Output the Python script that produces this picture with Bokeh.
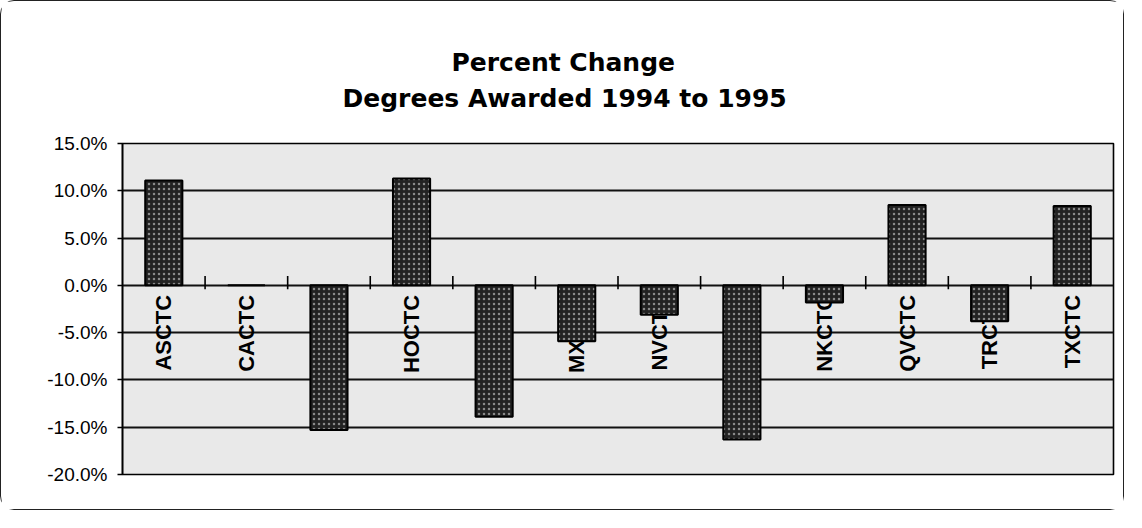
from math import pi
from bokeh.plotting import figure
from bokeh.models import Range1d, FixedTicker, PrintfTickFormatter, Title, ColumnDataSource
from bokeh.core.properties import value
from bokeh.embed import file_html
from bokeh.resources import INLINE

# ---- data ----
categories = ["ASCTC", "CACTC", "GWCTC", "HOCTC", "MCCTC", "MXCTC",
              "NVCTC", "NWCTC", "NKCTC", "QVCTC", "TRCTC", "TXCTC"]
pct_change = [11.1, 0.0, -15.3, 11.3, -13.9, -5.9,
              -3.1, -16.3, -1.8, 8.5, -3.8, 8.4]
y_ticks = [-20, -15, -10, -5, 0, 5, 10, 15]
title_line1 = "Percent Change"
title_line2 = "Degrees Awarded 1994 to 1995"

n = len(categories)
xs = [i + 0.5 for i in range(n)]
boundaries = list(range(1, n))

src = ColumnDataSource(dict(x=xs, top=pct_change, cat=categories,
                            ly=[-1.0] * n))

p = figure(width=1124, height=510, output_backend="svg", toolbar_location=None,
           x_range=Range1d(0, n), y_range=Range1d(y_ticks[0], y_ticks[-1]),
           x_axis_location=None,
           min_border_left=121, min_border_right=12,
           min_border_top=142, min_border_bottom=37)
p.styles = {"border": "1px solid #222", "border-radius": "14px"}

p.background_fill_color = "#e9e9e9"
p.border_fill_color = "white"
p.outline_line_color = "black"
p.outline_line_width = 1.6

# tighter spacing for the upper title line, if supported
_tp = Title.properties()
tight = {}
if "standoff" in _tp:
    tight["standoff"] = 0
if "padding" in _tp:
    tight["padding"] = 0

# titles: two lines, centred over the whole chart (not the frame)
p.add_layout(Title(text=" ", text_font_size="12px"), "above")
p.add_layout(Title(text=title_line2, align="left", offset=220,
                   text_font="DejaVu Sans",
                   text_font_style="bold", text_font_size="25px",
                   text_color="black"), "above")
p.add_layout(Title(text=title_line1, align="left", offset=329,
                   text_font="DejaVu Sans",
                   text_font_style="bold", text_font_size="25px",
                   text_color="black", **tight), "above")

# y axis
p.yaxis.ticker = FixedTicker(ticks=y_ticks)
p.yaxis.formatter = PrintfTickFormatter(format="%.1f%%")
p.yaxis.major_label_text_font = "Liberation Sans"
p.yaxis.major_label_text_font_size = "19px"
p.yaxis.major_label_text_color = "black"
p.yaxis.major_label_standoff = 10
p.yaxis.axis_line_color = "black"
p.yaxis.axis_line_width = 1.6
p.yaxis.major_tick_in = 0
p.yaxis.major_tick_out = 5
p.yaxis.major_tick_line_color = "black"
p.yaxis.major_tick_line_width = 1.5
p.yaxis.minor_tick_line_color = None

p.xgrid.visible = False
p.ygrid.ticker = FixedTicker(ticks=y_ticks)
p.ygrid.grid_line_color = "#111111"
p.ygrid.grid_line_width = 1.8

# category tick marks on the zero line
p.segment(x0=boundaries, x1=boundaries, y0=[1.0] * len(boundaries),
          y1=[-0.4] * len(boundaries), line_color="black", line_width=1.6)

# category labels (drawn before bars, so bars cover them as in the original)
p.text(x="x", y="ly", text="cat", source=src, angle=pi / 2,
       text_align="right", text_baseline="middle",
       text_font=value("Liberation Sans"), text_font_style="bold",
       text_font_size="22px", text_color="black")

# bars
p.vbar(x="x", top="top", bottom=0, width=0.45, source=src,
       fill_color="#222222", line_color="black", line_width=2,
       hatch_pattern=".", hatch_color="#8a8a8a", hatch_scale=5, hatch_weight=1)

open("out.html", "w").write(file_html(p, INLINE))
